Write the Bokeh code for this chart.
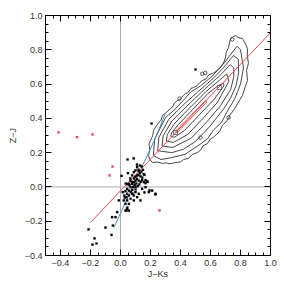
from bokeh.plotting import figure
from bokeh.models import Range1d, LinearAxis, FixedTicker, Span, CustomJSTickFormatter
from bokeh.embed import file_html
from bokeh.resources import INLINE

# ---- axes ----
x_lim = (-0.5, 1.0)
y_lim = (-0.4, 1.0)
major_x = [-0.4, -0.2, 0.0, 0.2, 0.4, 0.6, 0.8, 1.0]
major_y = [-0.4, -0.2, 0.0, 0.2, 0.4, 0.6, 0.8, 1.0]
minor_x = [-0.5, -0.45, -0.4, -0.35, -0.3, -0.25, -0.2, -0.15, -0.1, -0.05, 0.0, 0.05, 0.1, 0.15,
           0.2, 0.25, 0.3, 0.35, 0.4, 0.45, 0.5, 0.55, 0.6, 0.65, 0.7, 0.75, 0.8, 0.85, 0.9, 0.95, 1.0]
minor_y = [-0.4, -0.35, -0.3, -0.25, -0.2, -0.15, -0.1, -0.05, 0.0, 0.05, 0.1, 0.15, 0.2, 0.25,
           0.3, 0.35, 0.4, 0.45, 0.5, 0.55, 0.6, 0.65, 0.7, 0.75, 0.8, 0.85, 0.9, 0.95, 1.0]

# ---- reference relation lines ----
red_line_x = [-0.2, 1.0]
red_line_y = [-0.207, 0.90]
blue_line_x = [-0.045, 0.05, 0.15, 0.23, 0.30]
blue_line_y = [-0.237, -0.06, 0.13, 0.28, 0.43]

# ---- density contours (outer to inner) ----
c1_x = [0.72, 0.733, 0.75, 0.767, 0.79, 0.813, 0.83, 0.847, 0.845, 0.853, 0.84, 0.847, 0.83, 0.813, 0.79, 0.77,
        0.753, 0.73, 0.72, 0.70, 0.68, 0.665, 0.647, 0.62, 0.60, 0.58, 0.55, 0.535, 0.513, 0.48, 0.453, 0.42,
        0.40, 0.367, 0.33, 0.30, 0.28, 0.25, 0.213, 0.195, 0.187, 0.195, 0.19, 0.20, 0.215, 0.22, 0.233, 0.25,
        0.27, 0.28, 0.30, 0.333, 0.35, 0.36, 0.38, 0.40, 0.415, 0.433, 0.45, 0.47, 0.487, 0.51, 0.53, 0.547,
        0.57, 0.59, 0.613, 0.64, 0.655, 0.667, 0.69, 0.70, 0.705, 0.72]
c1_y = [0.813, 0.866, 0.875, 0.883, 0.87, 0.866, 0.84, 0.807, 0.77, 0.72, 0.68, 0.621, 0.58, 0.533, 0.50, 0.47,
        0.446, 0.42, 0.40, 0.376, 0.36, 0.33, 0.312, 0.29, 0.28, 0.253, 0.24, 0.215, 0.201, 0.19, 0.166, 0.16,
        0.145, 0.1425, 0.135, 0.14, 0.137, 0.145, 0.1425, 0.16, 0.183, 0.22, 0.25, 0.271, 0.30, 0.33, 0.347, 0.37,
        0.39, 0.417, 0.43, 0.4575, 0.47, 0.49, 0.504, 0.51, 0.53, 0.545, 0.55, 0.575, 0.58, 0.59, 0.61, 0.621,
        0.63, 0.655, 0.662, 0.675, 0.69, 0.697, 0.73, 0.755, 0.785, 0.813]
c2_x = [0.219, 0.228, 0.301, 0.36, 0.417, 0.47, 0.533, 0.61, 0.69, 0.777, 0.80, 0.82, 0.80, 0.765, 0.709,
        0.675, 0.621, 0.58, 0.521, 0.43, 0.336, 0.27, 0.219]
c2_y = [0.183, 0.280, 0.406, 0.45, 0.503, 0.555, 0.589, 0.645, 0.722, 0.821, 0.80, 0.694, 0.60, 0.52, 0.436,
        0.378, 0.333, 0.28, 0.243, 0.19, 0.17, 0.16, 0.183]
c3_x = [0.248, 0.256, 0.322, 0.38, 0.434, 0.546, 0.62, 0.68, 0.754, 0.785, 0.788, 0.77, 0.735, 0.688, 0.597,
        0.55, 0.497, 0.42, 0.342, 0.248]
c3_y = [0.211, 0.289, 0.395, 0.445, 0.491, 0.578, 0.635, 0.689, 0.767, 0.745, 0.668, 0.59, 0.52, 0.455, 0.355,
        0.31, 0.264, 0.22, 0.20, 0.211]
c4_x = [0.277, 0.284, 0.342, 0.450, 0.558, 0.67, 0.731, 0.755, 0.755, 0.735, 0.666, 0.572, 0.472, 0.348, 0.277]
c4_y = [0.239, 0.297, 0.384, 0.478, 0.568, 0.656, 0.713, 0.695, 0.642, 0.57, 0.473, 0.376, 0.285, 0.23, 0.239]
c5_x = [0.306, 0.312, 0.363, 0.467, 0.571, 0.66, 0.708, 0.723, 0.645, 0.548, 0.448, 0.354, 0.306]
c5_y = [0.267, 0.306, 0.373, 0.466, 0.557, 0.623, 0.659, 0.616, 0.492, 0.398, 0.306, 0.26, 0.267]
c6_x = [0.335, 0.34, 0.384, 0.484, 0.584, 0.65, 0.685, 0.69, 0.624, 0.524, 0.424, 0.36, 0.335]
c6_y = [0.295, 0.315, 0.362, 0.454, 0.546, 0.59, 0.605, 0.59, 0.511, 0.419, 0.327, 0.29, 0.295]
c7_x = [0.367, 0.567, 0.575, 0.375, 0.367]
c7_y = [0.325, 0.505, 0.495, 0.315, 0.325]
loop_x = [0.393, 0.545, 0.565, 0.745, 0.533, 0.72]
loop_y = [0.516, 0.66, 0.665, 0.86, 0.288, 0.405]
peak_x = [0.367, 0.66]
peak_y = [0.318, 0.58]

# ---- individual sources ----
black_x = [0.111, 0.1, 0.089, 0.122, 0.078, 0.111, 0.067, 0.056, 0.078, 0.089, 0.1, 0.122, 0.144, 0.156, 0.167,
           0.178, 0.133, 0.1, 0.067, 0.044, 0.056, 0.078, 0.033, 0.044, 0.056, 0.1, 0.089, 0.111, 0.122, 0.144,
           0.167, 0.189, 0.211, 0.233, 0.133, 0.089, 0.067, 0.044, 0.022, -0.011, 0.033, 0.056, 0.044, 0.033,
           0.056, -0.022, -0.033, -0.056, -0.051,
           0.047, 0.088, 0.16, 0.167, 0.18, 0.193, 0.16, 0.233, 0.207, 0.5, -0.213, -0.173, -0.187, -0.16, -0.1,
           -0.06, 0.007, 0.045, 0.029, 0.078, 0.045, 0.04,
           0.10, 0.12, 0.09, 0.11, 0.13, 0.12, 0.14, 0.15, 0.105, 0.095, 0.085, 0.075, 0.065, 0.06, 0.07, 0.08,
           0.1, 0.115, 0.125, 0.135, 0.145, 0.155, 0.14, 0.13, 0.11, 0.05, 0.035, 0.025, 0.015, 0.04]
black_y = [0.115, 0.096, 0.086, 0.092, 0.067, 0.067, 0.037, 0.018, 0.018, 0.028, 0.037, 0.037, 0.041, 0.028, 0.022,
           0.033, 0.061, -0.001, -0.001, -0.011, -0.021, -0.017, -0.025, -0.04, -0.05, -0.03, -0.05, -0.06, -0.04,
           -0.011, -0.001, -0.03, -0.021, -0.04, -0.079, -0.079, -0.069, -0.079, -0.079, -0.079, -0.099, -0.099,
           -0.128, -0.138, -0.138, -0.147, -0.176, -0.176, -0.225,
           0.16, 0.166, 0.07, 0.04, 0.03, -0.02, -0.032, -0.044, 0.37, 0.685, -0.248, -0.30, -0.336, -0.33, -0.237,
           -0.28, 0.065, 0.016, -0.062, -0.04, -0.12, -0.137,
           0.06, 0.07, 0.05, 0.045, 0.08, 0.10, 0.09, 0.1, 0.02, 0.01, 0.0, 0.03, 0.05, 0.01, -0.03, -0.04,
           -0.015, 0.005, 0.015, 0.03, 0.055, 0.075, 0.12, 0.125, 0.13, 0.08, 0.02, -0.05, -0.03, -0.06]
red_x = [-0.413, -0.29, -0.187, -0.053, -0.073, 0.26]
red_y = [0.318, 0.29, 0.306, 0.119, 0.067, -0.137]

FONT = "Liberation Sans"
fmt = CustomJSTickFormatter(code="return (tick < 0 ? '\\u2212' : '') + Math.abs(tick).toFixed(1);")
blank = CustomJSTickFormatter(code="return '';")

p = figure(frame_width=225, frame_height=240,
           x_range=Range1d(*x_lim), y_range=Range1d(*y_lim),
           output_backend="svg", toolbar_location=None,
           min_border_left=45, min_border_right=14, min_border_top=15, min_border_bottom=29,
           x_axis_label="J\u2212Ks", y_axis_label="Z\u2212J")
p.background_fill_color = "white"
p.border_fill_color = "white"
p.outline_line_color = "black"
p.xgrid.visible = False
p.ygrid.visible = False

xt = FixedTicker(ticks=major_x, minor_ticks=minor_x)
yt = FixedTicker(ticks=major_y, minor_ticks=minor_y)


def style(ax, labels=True):
    ax.axis_line_color = "black"
    ax.major_tick_line_color = "black"
    ax.minor_tick_line_color = "black"
    ax.major_tick_in = 6
    ax.major_tick_out = 0
    ax.minor_tick_in = 3
    ax.minor_tick_out = 0
    if labels:
        ax.formatter = fmt
        ax.major_label_text_font = FONT
        ax.major_label_text_font_size = "9px"
        ax.major_label_text_color = "#333333"
        ax.major_label_standoff = 3
        ax.axis_label_text_font = FONT
        ax.axis_label_text_font_size = "9px"
        ax.axis_label_text_font_style = "normal"
        ax.axis_label_text_color = "#333333"
    else:
        ax.formatter = blank
        ax.major_label_text_font_size = "0px"
        ax.major_label_standoff = 0


p.xaxis.ticker = xt
p.yaxis.ticker = yt
style(p.xaxis[0])
style(p.yaxis[0])
p.xaxis[0].major_label_standoff = 4
p.xaxis[0].axis_label_standoff = 0
p.yaxis[0].axis_label_standoff = 4

top = LinearAxis(ticker=xt)
right = LinearAxis(ticker=yt)
style(top, labels=False)
style(right, labels=False)
p.add_layout(top, "above")
p.add_layout(right, "right")

p.add_layout(Span(location=0, dimension="height", line_color="#aaaaaa", line_width=1, level="underlay"))
p.add_layout(Span(location=0, dimension="width", line_color="#aaaaaa", line_width=1, level="underlay"))

p.multi_line([c1_x, c2_x, c3_x, c4_x, c5_x, c6_x], [c1_y, c2_y, c3_y, c4_y, c5_y, c6_y],
             line_color="#333333", line_width=0.9)
p.line(c7_x, c7_y, line_color="#e8474f", line_width=0.9)
p.scatter(loop_x, loop_y, marker="circle", size=3.5, fill_color=None, line_color="#333333", line_width=0.8)
p.scatter(peak_x, peak_y, marker="square", size=4, fill_color=None, line_color="#555555", line_width=0.8)

p.line(blue_line_x, blue_line_y, line_color="#4a8fc8", line_width=1)
p.line(red_line_x, red_line_y, line_color="#e8474f", line_width=1)

p.scatter(black_x, black_y, marker="square", size=2.2, fill_color="black", line_color="black", line_width=0.2)
p.scatter(red_x, red_y, marker="square", size=2.2, fill_color="#e8474f", line_color="#e8474f", line_width=0.2)

open("out.html", "w").write(file_html(p, INLINE))
